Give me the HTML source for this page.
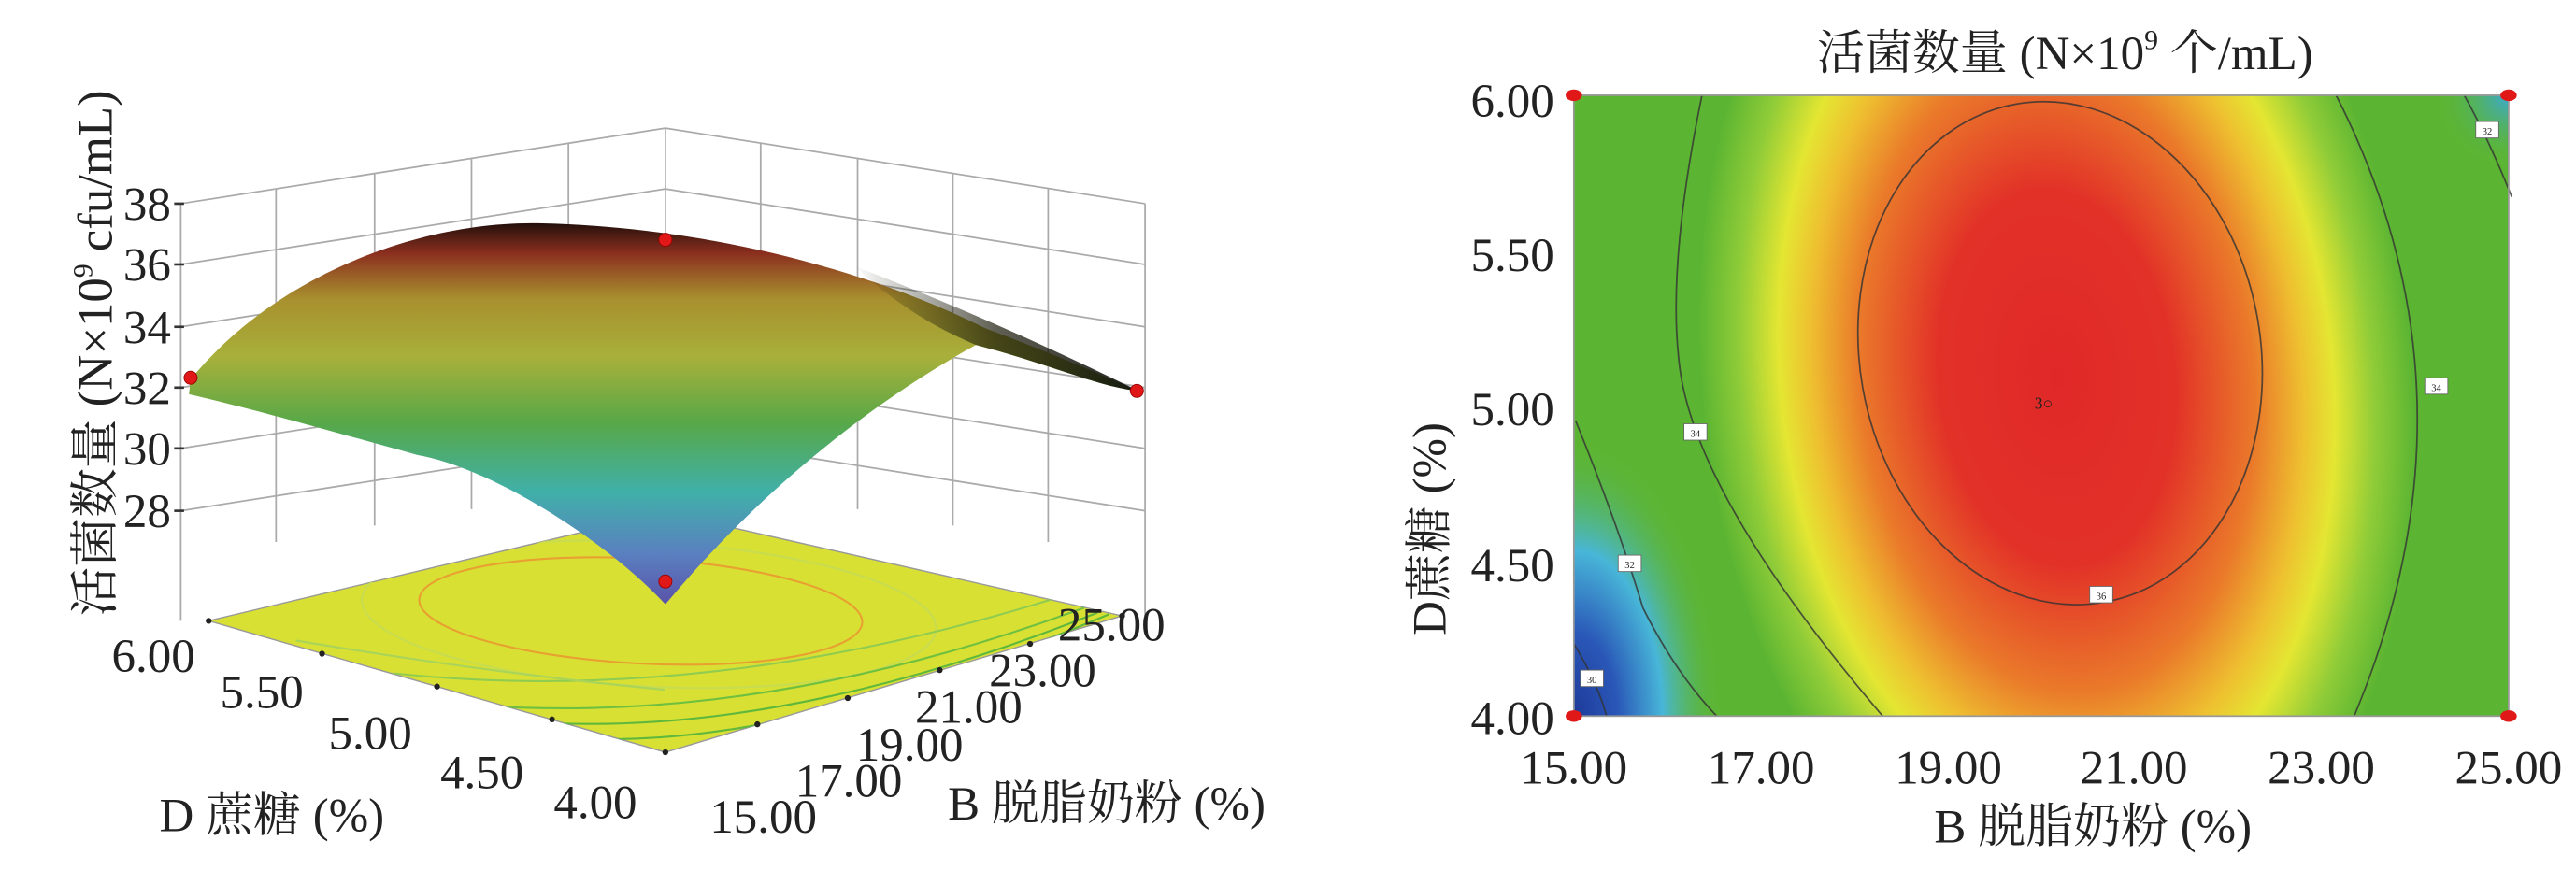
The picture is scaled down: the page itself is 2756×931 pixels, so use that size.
<!DOCTYPE html>
<html><head><meta charset="utf-8"><style>
html,body{margin:0;padding:0;background:#fff;}
svg{display:block;}
text{font-family:"Liberation Serif","Noto Serif CJK SC",serif;fill:#222;}
</style></head><body>
<svg width="2756" height="931" viewBox="0 0 1568 529.7" xmlns="http://www.w3.org/2000/svg">
<defs>
<clipPath id="floorclip"><polygon points="127,378 405,458 683,375 405,312"/></clipPath>
<radialGradient id="hot" gradientUnits="userSpaceOnUse" cx="1252" cy="230" r="240" gradientTransform="translate(1252 230) rotate(-6) scale(1 1.6) translate(-1252 -230)">
<stop offset="0" stop-color="#e02828"/>
<stop offset="0.3" stop-color="#e23228"/>
<stop offset="0.5" stop-color="#ea7a2a"/>
<stop offset="0.62" stop-color="#eec030"/>
<stop offset="0.7" stop-color="#e4e632"/>
<stop offset="0.8" stop-color="#90cc38"/>
<stop offset="0.9" stop-color="#5cb532"/>
<stop offset="1" stop-color="#5cb532" stop-opacity="0"/>
</radialGradient>
<radialGradient id="cold" gradientUnits="userSpaceOnUse" cx="958" cy="436" r="120" gradientTransform="translate(958 436) scale(0.75 1.4) translate(-958 -436)">
<stop offset="0" stop-color="#1e3a9a"/>
<stop offset="0.3" stop-color="#2a58b8"/>
<stop offset="0.6" stop-color="#48b6d8"/>
<stop offset="1" stop-color="#5cb532" stop-opacity="0"/>
</radialGradient>
<radialGradient id="cold2" gradientUnits="userSpaceOnUse" cx="1527" cy="58" r="45">
<stop offset="0" stop-color="#3aa8d8"/>
<stop offset="1" stop-color="#5cb532" stop-opacity="0"/>
</radialGradient>
<linearGradient id="surf" x1="0" y1="135" x2="0" y2="370" gradientUnits="userSpaceOnUse">
<stop offset="0" stop-color="#1e0e0a"/>
<stop offset="0.08" stop-color="#8a2e1e"/>
<stop offset="0.2" stop-color="#a8902e"/>
<stop offset="0.35" stop-color="#a8b03a"/>
<stop offset="0.52" stop-color="#58a848"/>
<stop offset="0.7" stop-color="#40b0a8"/>
<stop offset="0.86" stop-color="#5a80c0"/>
<stop offset="1" stop-color="#5a50a8"/>
</linearGradient>
<linearGradient id="dark" x1="520" y1="0" x2="693" y2="0" gradientUnits="userSpaceOnUse">
<stop offset="0" stop-color="#1a1a0a" stop-opacity="0"/>
<stop offset="0.5" stop-color="#1a1a0a" stop-opacity="0.7"/>
<stop offset="1" stop-color="#0a0a0a" stop-opacity="0.9"/>
</linearGradient>
</defs>

<!-- LEFT 3D PLOT -->
<g stroke="#aaa" stroke-width="1" fill="none">
<line x1="110" y1="124" x2="405" y2="78"/>
<line x1="110" y1="161" x2="405" y2="115"/>
<line x1="110" y1="199" x2="405" y2="153"/>
<line x1="110" y1="236" x2="405" y2="190"/>
<line x1="110" y1="273" x2="405" y2="227"/>
<line x1="110" y1="311" x2="405" y2="265"/>
<line x1="405" y1="78" x2="697" y2="124"/>
<line x1="405" y1="115" x2="697" y2="161"/>
<line x1="405" y1="153" x2="697" y2="199"/>
<line x1="405" y1="190" x2="697" y2="236"/>
<line x1="405" y1="227" x2="697" y2="273"/>
<line x1="405" y1="265" x2="697" y2="311"/>
<line x1="110" y1="124" x2="110" y2="378"/>
<line x1="168" y1="115" x2="168" y2="330"/>
<line x1="228" y1="106" x2="228" y2="320"/>
<line x1="287" y1="96" x2="287" y2="310"/>
<line x1="346" y1="87" x2="346" y2="300"/>
<line x1="405" y1="78" x2="405" y2="300"/>
<line x1="463" y1="87" x2="463" y2="300"/>
<line x1="522" y1="96" x2="522" y2="310"/>
<line x1="580" y1="106" x2="580" y2="320"/>
<line x1="638" y1="115" x2="638" y2="330"/>
<line x1="697" y1="124" x2="697" y2="375"/>
</g>
<g stroke="#333" stroke-width="1.5">
<line x1="106" y1="124" x2="112" y2="124"/><line x1="106" y1="161" x2="112" y2="161"/>
<line x1="106" y1="199" x2="112" y2="199"/><line x1="106" y1="236" x2="112" y2="236"/>
<line x1="106" y1="273" x2="112" y2="273"/><line x1="106" y1="311" x2="112" y2="311"/>
</g>
<g font-size="29" text-anchor="end">
<text x="104" y="134">38</text><text x="104" y="171">36</text><text x="104" y="209">34</text>
<text x="104" y="246">32</text><text x="104" y="283">30</text><text x="104" y="321">28</text>
</g>
<!-- floor -->
<polygon points="127,378 405,458 683,375 405,312" fill="#d8e034" stroke="#999" stroke-width="0.8"/>
<g fill="none" stroke-width="1.2" clip-path="url(#floorclip)">
<ellipse cx="390" cy="372" rx="135" ry="32" stroke="#e8a030" transform="rotate(3 390 372)"/>
<ellipse cx="395" cy="374" rx="175" ry="44" stroke="#c8dc50" transform="rotate(3 395 374)"/>
<path d="M300,430 Q470,440 660,370" stroke="#70c040"/>
<path d="M330,440 Q480,448 668,373" stroke="#5fb83c"/>
<path d="M365,450 Q490,452 675,374" stroke="#5fb83c"/>
<path d="M240,410 Q430,430 640,365" stroke="#90cc50"/>
<path d="M180,390 Q300,410 405,420" stroke="#a8d45a"/>
</g>
<!-- surface -->
<path d="M115,240 L116,231 C170,165 260,134 330,136 C420,138 520,160 600,200 C640,215 670,228 693,238 C670,236 640,222 594,210 C540,240 470,290 405,368 C370,330 300,285 254,277 C200,262 150,248 115,240 Z" fill="url(#surf)"/>
<path d="M520,162 C580,185 640,212 693,238 C670,236 640,222 594,210 C570,200 545,185 520,162 Z" fill="url(#dark)"/>
<g fill="#222">
<circle cx="127" cy="378" r="1.8"/><circle cx="196" cy="398" r="1.8"/><circle cx="266" cy="418" r="1.8"/>
<circle cx="336" cy="438" r="1.8"/><circle cx="405" cy="458" r="1.8"/>
<circle cx="461" cy="441" r="1.8"/><circle cx="516" cy="425" r="1.8"/><circle cx="572" cy="408" r="1.8"/>
<circle cx="627" cy="392" r="1.8"/><circle cx="683" cy="375" r="1.8"/>
</g>
<g fill="#e01818" stroke="#900" stroke-width="0.5">
<circle cx="116" cy="230" r="4"/><circle cx="405" cy="146" r="4"/><circle cx="692" cy="238" r="4"/><circle cx="405" cy="354" r="4"/>
</g>
<g font-size="29">
<text x="68" y="409">6.00</text><text x="134" y="431">5.50</text><text x="200" y="456">5.00</text>
<text x="268" y="480">4.50</text><text x="337" y="498">4.00</text>
<text x="432" y="507">15.00</text><text x="484" y="485">17.00</text><text x="521" y="463">19.00</text>
<text x="557" y="440">21.00</text><text x="602" y="418">23.00</text><text x="644" y="390">25.00</text>
<text x="97" y="506">D 蔗糖 (%)</text>
<text x="577" y="499">B 脱脂奶粉 (%)</text>
<text transform="translate(68 215) rotate(-90)" text-anchor="middle" font-size="30">活菌数量 (N×10<tspan font-size="17" dy="-12">9</tspan><tspan dy="12"> cfu/mL)</tspan></text>
</g>

<!-- RIGHT CONTOUR PLOT -->
<rect x="958" y="58" width="569" height="378" fill="#5cb532"/>
<rect x="958" y="58" width="569" height="378" fill="url(#hot)"/>
<rect x="958" y="58" width="569" height="378" fill="url(#cold)"/>
<rect x="958" y="58" width="569" height="378" fill="url(#cold2)"/>
<g fill="none" stroke="#333" stroke-width="1" opacity="0.8">
<ellipse cx="1254" cy="215" rx="122" ry="154" transform="rotate(-10 1254 215)"/>
<path d="M1036,58 Q1015,160 1022,220 Q1030,300 1146,436"/>
<path d="M959,256 Q985,320 1000,370 Q1020,410 1045,436"/>
<path d="M1422,58 Q1515,240 1433,436"/>
<path d="M1500,58 Q1515,85 1529,120"/>
<path d="M958,392 Q972,415 978,436"/>
</g>
<rect x="958" y="58" width="569" height="378" fill="none" stroke="#999" stroke-width="1"/>
<g font-size="6" text-anchor="middle">
<rect x="1025" y="258" width="14" height="10" fill="#fff" stroke="#666" stroke-width="0.5"/><text x="1032" y="266">34</text>
<rect x="985" y="338" width="14" height="10" fill="#fff" stroke="#666" stroke-width="0.5"/><text x="992" y="346">32</text>
<rect x="962" y="408" width="14" height="10" fill="#fff" stroke="#666" stroke-width="0.5"/><text x="969" y="416">30</text>
<rect x="1272" y="357" width="14" height="10" fill="#fff" stroke="#666" stroke-width="0.5"/><text x="1279" y="365">36</text>
<rect x="1476" y="230" width="14" height="10" fill="#fff" stroke="#666" stroke-width="0.5"/><text x="1483" y="238">34</text>
<rect x="1507" y="74" width="14" height="10" fill="#fff" stroke="#666" stroke-width="0.5"/><text x="1514" y="82">32</text>
</g>
<text x="1244" y="249" font-size="10" text-anchor="middle" fill="#333">3○</text>
<g fill="#e01818">
<ellipse cx="958" cy="58" rx="5" ry="3.5"/><ellipse cx="1527" cy="58" rx="5" ry="3.5"/>
<ellipse cx="958" cy="436" rx="5" ry="3.5"/><ellipse cx="1527" cy="436" rx="5" ry="3.5"/>
</g>
<g font-size="29">
<g text-anchor="end">
<text x="946" y="71">6.00</text><text x="946" y="165">5.50</text><text x="946" y="259">5.00</text>
<text x="946" y="354">4.50</text><text x="946" y="447">4.00</text>
</g>
<g text-anchor="middle">
<text x="958" y="477">15.00</text><text x="1072" y="477">17.00</text><text x="1186" y="477">19.00</text>
<text x="1299" y="477">21.00</text><text x="1413" y="477">23.00</text><text x="1527" y="477">25.00</text>
<text x="1274" y="513">B 脱脂奶粉 (%)</text>
<text x="1257" y="42">活菌数量 (N×10<tspan font-size="17" dy="-12">9</tspan><tspan dy="12"> 个/mL)</tspan></text>
</g>
<text transform="translate(880 322) rotate(-90)" text-anchor="middle">D蔗糖 (%)</text>
</g>
</svg>
</body></html>
